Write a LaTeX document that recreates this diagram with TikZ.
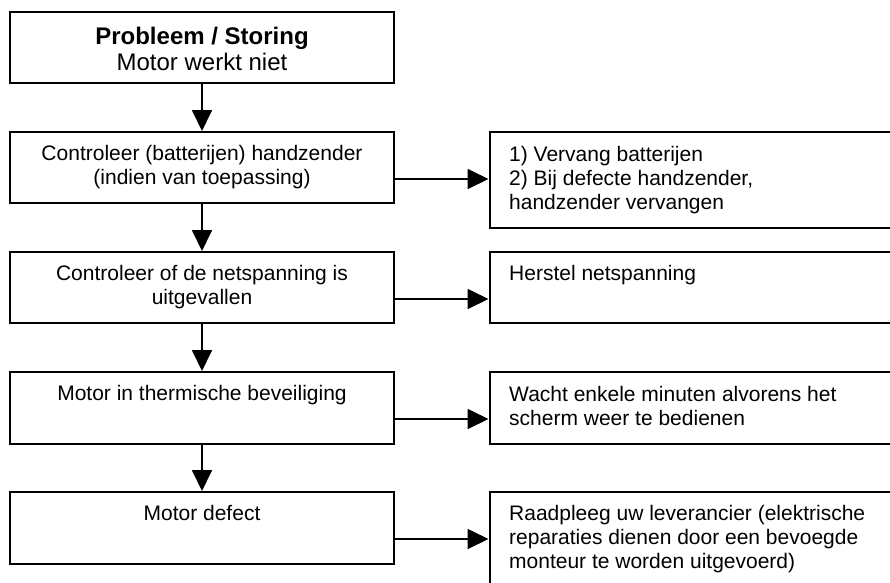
\documentclass[tikz,border=0pt]{standalone}
\usepackage{fontspec}
\setmainfont{Liberation Sans}
\usetikzlibrary{arrows.meta}
\tikzset{
  box/.style={draw, line width=2pt, rectangle, inner sep=0pt, anchor=north west},
  arr/.style={line width=1.8pt, -{Triangle[length=21pt,width=20pt]}},
  ctxt/.style={anchor=base, align=center, inner sep=0pt, font=\fontsize{21}{24}\selectfont},
  ltxt/.style={anchor=base west, align=left, inner sep=0pt, font=\fontsize{21}{24}\selectfont},
  ttxt/.style={anchor=base, align=center, inner sep=0pt, font=\fontsize{24}{26.5}\selectfont},
}
\begin{document}
\begin{tikzpicture}[x=1pt, y=-1pt]
\useasboundingbox (0,0) rectangle (890,582);
\clip (0,0) rectangle (890,582);
\fill[white] (0,0) rectangle (890,582);
% left column
\node[box, minimum width=384pt, minimum height=70.7pt] (b1) at (9,11) {};
\node[box, minimum width=384pt, minimum height=70.7pt] (b2) at (9,131) {};
\node[box, minimum width=384pt, minimum height=71pt] (b3) at (9,251) {};
\node[box, minimum width=384pt, minimum height=71.5pt] (b4) at (9,371) {};
\node[box, minimum width=384pt, minimum height=71.5pt] (b5) at (9,491) {};
% right column
\node[box, minimum width=430pt, minimum height=96pt] (r1) at (488.5,131) {};
\node[box, minimum width=430pt, minimum height=71pt] (r2) at (488.5,251) {};
\node[box, minimum width=430pt, minimum height=71.5pt] (r3) at (488.5,371) {};
\node[box, minimum width=430pt, minimum height=130pt] (r4) at (488.5,491) {};
% texts (base anchor = baseline of the last line)
\node[ttxt] (t1) at ([yshift=-59.5pt]b1.north) {\bfseries Probleem / Storing\\ Motor werkt niet};
\node[ctxt] (t2) at ([yshift=-53.5pt]b2.north) {Controleer (batterijen) handzender\\ (indien van toepassing)};
\node[ctxt] (t3) at ([yshift=-53.5pt]b3.north) {Controleer of de netspanning is\\ uitgevallen};
\node[ctxt] (t4) at ([yshift=-29.5pt]b4.north) {Motor in thermische beveiliging};
\node[ctxt] (t5) at ([yshift=-29.5pt]b5.north) {Motor defect};
\node[ltxt] (s1) at ([xshift=20.5pt,yshift=-78.5pt]r1.north west) {1) Vervang batterijen\\ 2) Bij defecte handzender,\\ handzender vervangen};
\node[ltxt] (s2) at ([xshift=20.5pt,yshift=-29.5pt]r2.north west) {Herstel netspanning};
\node[ltxt] (s3) at ([xshift=20.5pt,yshift=-54pt]r3.north west) {Wacht enkele minuten alvorens het\\ scherm weer te bedienen};
\node[ltxt] (s4) at ([xshift=20.5pt,yshift=-77pt]r4.north west) {Raadpleeg uw leverancier (elektrische\\ reparaties dienen door een bevoegde\\ monteur te worden uitgevoerd)};
% vertical arrows
\draw[arr] (b1.south) -- (b2.north);
\draw[arr] (b2.south) -- (b3.north);
\draw[arr] (b3.south) -- (b4.north);
\draw[arr] (b4.south) -- (b5.north);
% horizontal arrows
\draw[arr] ([yshift=-48pt]b2.north east) -- ([yshift=-48pt]r1.north west);
\draw[arr] ([yshift=-48pt]b3.north east) -- ([yshift=-48pt]r2.north west);
\draw[arr] ([yshift=-48pt]b4.north east) -- ([yshift=-48pt]r3.north west);
\draw[arr] ([yshift=-48pt]b5.north east) -- ([yshift=-48pt]r4.north west);
\end{tikzpicture}
\end{document}
